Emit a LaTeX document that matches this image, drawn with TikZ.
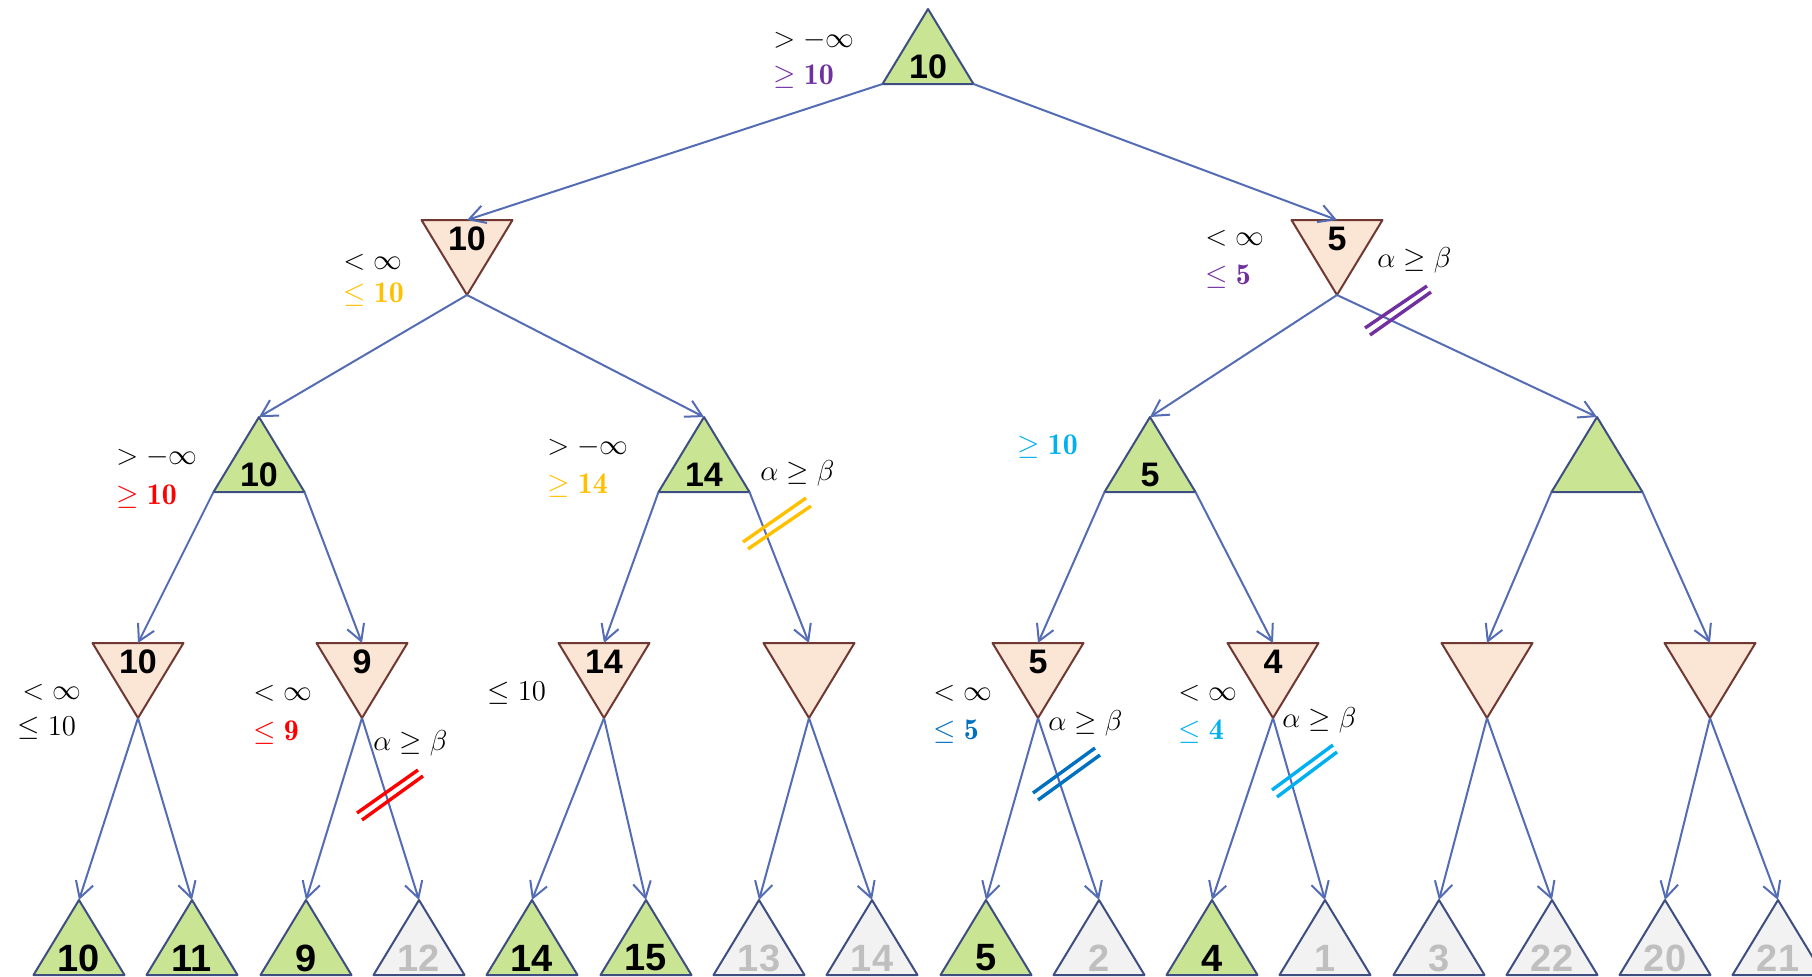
\documentclass[tikz,border=0pt]{standalone}
\usepackage{fontspec}
\setsansfont{Liberation Sans}
\usetikzlibrary{arrows.meta}
\definecolor{edgeblue}{RGB}{84,108,180}
\definecolor{maxline}{RGB}{62,78,128}
\definecolor{minline}{RGB}{112,56,50}
\definecolor{maxfill}{RGB}{201,229,147}
\definecolor{minfill}{RGB}{251,229,213}
\definecolor{leafgray}{RGB}{242,242,242}
\definecolor{txtgray}{RGB}{191,191,191}
\definecolor{cpurple}{RGB}{112,48,160}
\definecolor{cgold}{RGB}{255,192,0}
\definecolor{cred}{RGB}{255,0,0}
\definecolor{cdblue}{RGB}{0,112,192}
\definecolor{clblue}{RGB}{0,176,240}
\tikzset{
  edge/.style={draw=edgeblue, line width=1pt, -{Straight Barb[length=8pt,width=9pt]}},
  valtxt/.style={font=\sffamily\bfseries\fontsize{17}{20}\selectfont, inner sep=0pt},
  leaftxt/.style={font=\sffamily\bfseries\fontsize{19}{22}\selectfont, inner sep=0pt},
  lab/.style={font=\fontsize{15}{18}\selectfont, inner sep=0pt, anchor=west},
  cut/.style={draw=#1, line width=1.7pt},
}
% max node: name, x, apex y, text, fill, textstyle
\newcommand\maxnd[6]{%
  \filldraw[fill=#5, draw=maxline, line width=1pt, line join=round] (#2,#3) -- (#2+45.5,#3+75) -- (#2-45.5,#3+75) -- cycle;
  \coordinate (#1-t) at (#2,#3);
  \coordinate (#1-bl) at (#2-45.5,#3+75);
  \coordinate (#1-br) at (#2+45.5,#3+75);
  \node[#6] (#1) at (#2,#3+58) {#4};
}
% min node: name, x, top y, text
\newcommand\minnd[4]{%
  \filldraw[fill=minfill, draw=minline, line width=1pt, line join=round] (#2-45.5,#3) -- (#2+45.5,#3) -- (#2,#3+75) -- cycle;
  \coordinate (#1-t) at (#2,#3);
  \coordinate (#1-b) at (#2,#3+75);
  \node[valtxt] (#1) at (#2,#3+19) {#4};
}
\begin{document}
\begin{tikzpicture}[x=0.5pt, y=-0.5pt]
\useasboundingbox (0,0) rectangle (1812,976);
% root
\maxnd{r}{928}{9}{10}{maxfill}{valtxt}
% level 1
\minnd{a}{467}{220}{10}
\minnd{b}{1337}{220}{5}
% level 2
\maxnd{c1}{259}{417}{10}{maxfill}{valtxt}
\maxnd{c2}{704}{417}{14}{maxfill}{valtxt}
\maxnd{c3}{1150}{417}{5}{maxfill}{valtxt}
\maxnd{c4}{1597}{417}{}{maxfill}{valtxt}
% level 3
\minnd{d1}{138}{643}{10}
\minnd{d2}{362}{643}{9}
\minnd{d3}{604}{643}{14}
\minnd{d4}{809}{643}{}
\minnd{d5}{1038}{643}{5}
\minnd{d6}{1273}{643}{4}
\minnd{d7}{1487}{643}{}
\minnd{d8}{1710}{643}{}
% leaves
\maxnd{e1}{79}{900}{10}{maxfill}{leaftxt}
\maxnd{e2}{192}{900}{11}{maxfill}{leaftxt}
\maxnd{e3}{306}{900}{9}{maxfill}{leaftxt}
\maxnd{e4}{419}{900}{12}{leafgray}{leaftxt,text=txtgray}
\maxnd{e5}{532}{900}{14}{maxfill}{leaftxt}
\maxnd{e6}{646}{900}{15}{maxfill}{leaftxt}
\maxnd{e7}{759}{900}{13}{leafgray}{leaftxt,text=txtgray}
\maxnd{e8}{872}{900}{14}{leafgray}{leaftxt,text=txtgray}
\maxnd{e9}{986}{900}{5}{maxfill}{leaftxt}
\maxnd{e10}{1099}{900}{2}{leafgray}{leaftxt,text=txtgray}
\maxnd{e11}{1212}{900}{4}{maxfill}{leaftxt}
\maxnd{e12}{1325}{900}{1}{leafgray}{leaftxt,text=txtgray}
\maxnd{e13}{1439}{900}{3}{leafgray}{leaftxt,text=txtgray}
\maxnd{e14}{1552}{900}{22}{leafgray}{leaftxt,text=txtgray}
\maxnd{e15}{1665}{900}{20}{leafgray}{leaftxt,text=txtgray}
\maxnd{e16}{1778}{900}{21}{leafgray}{leaftxt,text=txtgray}
% edges
\draw[edge] (r-bl) -- (a-t);
\draw[edge] (r-br) -- (b-t);
\draw[edge] (a-b) -- (c1-t);
\draw[edge] (a-b) -- (c2-t);
\draw[edge] (b-b) -- (c3-t);
\draw[edge] (b-b) -- (c4-t);
\draw[edge] (c1-bl) -- (d1-t);
\draw[edge] (c1-br) -- (d2-t);
\draw[edge] (c2-bl) -- (d3-t);
\draw[edge] (c2-br) -- (d4-t);
\draw[edge] (c3-bl) -- (d5-t);
\draw[edge] (c3-br) -- (d6-t);
\draw[edge] (c4-bl) -- (d7-t);
\draw[edge] (c4-br) -- (d8-t);
\foreach \d/\l/\m in {1/1/2, 2/3/4, 3/5/6, 4/7/8, 5/9/10, 6/11/12, 7/13/14, 8/15/16} {
  \draw[edge] (d\d-b) -- (e\l-t);
  \draw[edge] (d\d-b) -- (e\m-t);
}
% cut marks
\draw[cut=cpurple] (1365,328) -- (1427,286) (1370,335) -- (1431,292);
\draw[cut=cgold] (743,542) -- (806,498) (748,549) -- (811,506);
\draw[cut=cred] (357,813) -- (418,770) (362,820) -- (423,776);
\draw[cut=cdblue] (1033,793) -- (1095,748) (1038,800) -- (1100,755);
\draw[cut=clblue] (1272,790) -- (1333,745) (1277,797) -- (1337,752);
% labels
\node[lab] (l1) at (773,40) {$> -\infty$};
\node[lab, text=cpurple] (l2) at (773,77) {$\geq \mathbf{10}$};
\node[lab] (l3) at (343,262) {$< \infty$};
\node[lab, text=cgold] (l4) at (343,295) {$\leq \mathbf{10}$};
\node[lab] (l5) at (1205,238) {$< \infty$};
\node[lab, text=cpurple] (l6) at (1205,277) {$\leq \mathbf{5}$};
\node[lab] (l7) at (1377,260) {$\alpha \geq \beta$};
\node[lab] (l8) at (116,457) {$> -\infty$};
\node[lab, text=cred] (l9) at (116,497) {$\geq \mathbf{10}$};
\node[lab] (l10) at (547,447) {$> -\infty$};
\node[lab, text=cgold] (l11) at (547,486) {$\geq \mathbf{14}$};
\node[lab] (l12) at (760,473) {$\alpha \geq \beta$};
\node[lab, text=clblue] (l13) at (1017,447) {$\geq \mathbf{10}$};
\node[lab] (l14) at (22,692) {$< \infty$};
\node[lab] (l15) at (17,728) {$\leq 10$};
\node[lab] (l16) at (253,693) {$< \infty$};
\node[lab, text=cred] (l17) at (253,733) {$\leq \mathbf{9}$};
\node[lab] (l18) at (373,743) {$\alpha \geq \beta$};
\node[lab] (l19) at (487,693) {$\leq 10$};
\node[lab] (l20) at (933,693) {$< \infty$};
\node[lab, text=cdblue] (l21) at (933,732) {$\leq \mathbf{5}$};
\node[lab] (l22) at (1048,723) {$\alpha \geq \beta$};
\node[lab] (l23) at (1178,693) {$< \infty$};
\node[lab, text=clblue] (l24) at (1178,732) {$\leq \mathbf{4}$};
\node[lab] (l25) at (1282,720) {$\alpha \geq \beta$};
\end{tikzpicture}
\end{document}
